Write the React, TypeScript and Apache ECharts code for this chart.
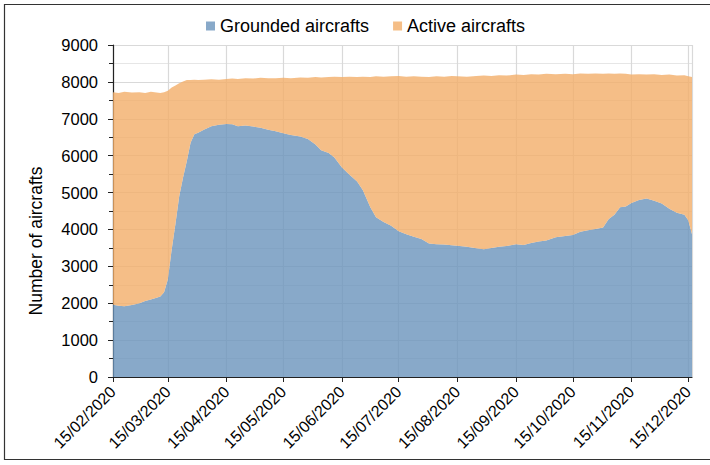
import React, { useEffect, useRef } from "react";
import * as echarts from "echarts";

// Axis range (daily categories)
const firstDay = "15/02/2020";
const lastDay = "17/12/2020";

// Labelled ticks on the date axis
const tickLabels = [
  "15/02/2020", "15/03/2020", "15/04/2020", "15/05/2020", "15/06/2020", "15/07/2020",
  "15/08/2020", "15/09/2020", "15/10/2020", "15/11/2020", "15/12/2020",
];

const sampleDates = [
  "15/02/2020", "18/02/2020", "21/02/2020", "25/02/2020", "29/02/2020", "03/03/2020",
  "06/03/2020", "09/03/2020", "11/03/2020", "13/03/2020", "15/03/2020", "17/03/2020",
  "19/03/2020", "21/03/2020", "23/03/2020", "25/03/2020", "27/03/2020", "29/03/2020",
  "31/03/2020", "03/04/2020", "07/04/2020", "11/04/2020", "15/04/2020", "18/04/2020",
  "21/04/2020", "25/04/2020", "29/04/2020", "03/05/2020", "07/05/2020", "11/05/2020",
  "15/05/2020", "19/05/2020", "24/05/2020", "28/05/2020", "01/06/2020", "04/06/2020",
  "08/06/2020", "11/06/2020", "15/06/2020", "19/06/2020", "23/06/2020", "26/06/2020",
  "30/06/2020", "03/07/2020", "07/07/2020", "11/07/2020", "15/07/2020", "19/07/2020",
  "23/07/2020", "27/07/2020", "31/07/2020", "04/08/2020", "08/08/2020", "12/08/2020",
  "15/08/2020", "20/08/2020", "25/08/2020", "29/08/2020", "02/09/2020", "06/09/2020",
  "10/09/2020", "15/09/2020", "19/09/2020", "23/09/2020", "27/09/2020", "01/10/2020",
  "06/10/2020", "11/10/2020", "15/10/2020", "19/10/2020", "23/10/2020", "27/10/2020",
  "31/10/2020", "03/11/2020", "06/11/2020", "09/11/2020", "12/11/2020", "15/11/2020",
  "19/11/2020", "23/11/2020", "27/11/2020", "01/12/2020", "05/12/2020", "09/12/2020",
  "13/12/2020", "15/12/2020", "17/12/2020",
];

const grounded = [
  1960, 1930, 1920, 1950, 2000, 2060,
  2100, 2150, 2180, 2300, 2650, 3450,
  4150, 4900, 5400, 5850, 6350, 6580,
  6620, 6700, 6800, 6840, 6860, 6850,
  6800, 6820, 6790, 6760, 6700, 6660,
  6610, 6560, 6520, 6450, 6300, 6150,
  6070, 5950, 5680, 5480, 5300, 5070,
  4600, 4330, 4200, 4100, 3950, 3870,
  3800, 3740, 3620, 3600, 3590, 3570,
  3560, 3530, 3490, 3460, 3500, 3530,
  3550, 3600, 3580, 3630, 3670, 3700,
  3790, 3820, 3850, 3940, 3980, 4010,
  4050, 4280, 4400, 4600, 4620, 4720,
  4800, 4840, 4780, 4700, 4560, 4450,
  4400, 4250, 3870,
];

const active = [
  5760, 5770, 5810, 5760, 5720, 5640,
  5630, 5560, 5520, 5420, 5110, 4400,
  3750, 3060, 2610, 2200, 1700, 1480,
  1430, 1360, 1270, 1220, 1220, 1240,
  1280, 1280, 1300, 1350, 1400, 1440,
  1500, 1540, 1600, 1660, 1830, 1970,
  2060, 2190, 2450, 2660, 2830, 3070,
  3530, 3820, 3940, 4050, 4210, 4270,
  4350, 4400, 4510, 4550, 4550, 4590,
  4590, 4610, 4670, 4710, 4660, 4650,
  4620, 4600, 4610, 4580, 4530, 4520,
  4420, 4400, 4360, 4290, 4240, 4220,
  4170, 3950, 3820, 3630, 3600, 3480,
  3410, 3360, 3430, 3490, 3640, 3720,
  3780, 3900, 4260,
];

const seriesNames = ["Grounded aircrafts", "Active aircrafts"];
const yAxisTitle = "Number of aircrafts";

function parseDMY(s: string): number {
  const [d, m, y] = s.split("/").map(Number);
  return Date.UTC(y, m - 1, d);
}
function fmt(t: number): string {
  const dt = new Date(t);
  const dd = String(dt.getUTCDate()).padStart(2, "0");
  const mm = String(dt.getUTCMonth() + 1).padStart(2, "0");
  return `${dd}/${mm}/${dt.getUTCFullYear()}`;
}
function buildDays(a: string, b: string): string[] {
  const out: string[] = [];
  const end = parseDMY(b);
  for (let t = parseDMY(a); t <= end; t += 86400000) out.push(fmt(t));
  return out;
}

const FONT = "'Liberation Sans', Arial, Helvetica, sans-serif";

export default function App() {
  const ref = useRef<HTMLDivElement>(null);
  useEffect(() => {
    if (!ref.current) return;
    const chart = echarts.init(ref.current, undefined, { renderer: "svg" });
    const days = buildDays(firstDay, lastDay);
    const tickSet = new Set(tickLabels);
    const lastIdx = days.length - 1;

    chart.setOption({
      animation: false,
      textStyle: { fontFamily: FONT },
      graphic: [
        {
          type: "rect",
          shape: { x: 4.5, y: 4.5, width: 720, height: 455 },
          style: { fill: "none", stroke: "#333", lineWidth: 1.2 },
          silent: true,
        },
        {
          type: "text",
          x: 36,
          y: 241,
          rotation: Math.PI / 2,
          style: {
            text: yAxisTitle,
            font: `17.5px ${FONT}`,
            fill: "#000",
            align: "center",
            verticalAlign: "middle",
          },
          silent: true,
        },
      ],
      legend: {
        data: seriesNames,
        left: 201,
        top: 12,
        icon: "rect",
        itemWidth: 9,
        itemHeight: 9,
        itemGap: 24,
        textStyle: { fontSize: 18, color: "#000", fontFamily: FONT },
        selectedMode: false,
      },
      grid: { left: 113, right: 18, top: 45, bottom: 88, containLabel: false },
      xAxis: {
        type: "category",
        data: days,
        boundaryGap: false,
        axisLine: { show: true, lineStyle: { color: "#222", width: 1.2 } },
        axisTick: {
          show: true,
          length: 5,
          inside: false,
          interval: (_i: number, v: string) => tickSet.has(v),
          lineStyle: { color: "#222" },
        },
        axisLabel: {
          interval: (_i: number, v: string) => tickSet.has(v),
          rotate: 45,
          fontSize: 16,
          color: "#000",
          margin: 12,
          fontFamily: FONT,
        },
        splitLine: {
          show: true,
          interval: (i: number, v: string) => tickSet.has(v) || i === lastIdx,
          lineStyle: { color: "#d9d9d9", width: 1.2 },
        },
      },
      yAxis: {
        type: "value",
        min: 0,
        max: 9000,
        interval: 1000,
        axisLine: { show: true, lineStyle: { color: "#222", width: 1.2 } },
        axisTick: { show: true, length: 5, lineStyle: { color: "#222" } },
        minorTick: { show: true, splitNumber: 2, length: 4, lineStyle: { color: "#222" } },
        axisLabel: {
          fontSize: 16.5,
          color: "#000",
          margin: 15,
          fontFamily: FONT,
          formatter: (v: number) => String(v),
        },
        splitLine: { show: true, lineStyle: { color: "#d9d9d9", width: 1.2 } },
        minorSplitLine: { show: true, lineStyle: { color: "#e6e6e6", width: 1 } },
      },
      series: [
        {
          name: seriesNames[0],
          type: "line",
          stack: "total",
          data: sampleDates.map((d, i) => [d, grounded[i]]),
          symbol: "none",
          showSymbol: false,
          color: "#88A9C9",
          lineStyle: { width: 0, opacity: 0 },
          areaStyle: { color: "rgba(106,148,187,0.8)", opacity: 1 },
          emphasis: { disabled: true },
        },
        {
          name: seriesNames[1],
          type: "line",
          stack: "total",
          data: sampleDates.map((d, i) => [d, active[i]]),
          symbol: "none",
          showSymbol: false,
          color: "#F5BE87",
          lineStyle: { width: 0, opacity: 0 },
          areaStyle: { color: "rgba(242,174,105,0.8)", opacity: 1 },
          emphasis: { disabled: true },
        },
      ],
    });
    return () => chart.dispose();
  }, []);
  return (
    <div
      ref={ref}
      style={{ position: "fixed", left: 0, top: 0, width: 710, height: 465, background: "#fff" }}
    />
  );
}
